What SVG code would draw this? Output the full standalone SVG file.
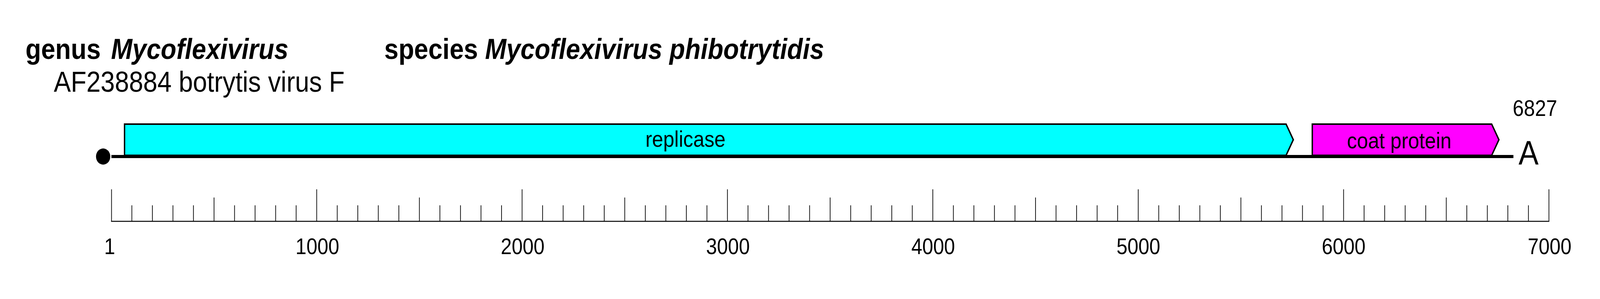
<svg xmlns="http://www.w3.org/2000/svg" width="4638" height="766" viewBox="0 0 4638 766" preserveAspectRatio="none">
<style>
svg:root{width:100vw;height:100vh}
text{font-family:"Liberation Sans",Arial,sans-serif;fill:#000}
.title{font-size:74px;font-weight:bold}
.it{font-style:italic}
.acc{font-size:74px}
.gene{font-size:58px;text-anchor:middle}
.lab{font-size:57px;text-anchor:middle}
.gbox{stroke:#000;stroke-width:4;stroke-linejoin:miter}
.tick{stroke:#000;stroke-width:2;fill:none}
</style>
<rect width="4638" height="766" fill="#fff"/>
<g id="header">
<text class="title" x="74" y="151">genus<tspan class="it" x="322">Mycoflexivirus</tspan></text>
<text class="title" x="1114" y="151">species <tspan class="it">Mycoflexivirus phibotrytidis</tspan></text>
<text class="acc" x="156" y="235">AF238884 botrytis virus F</text>
</g>
<g id="genome">
<circle cx="299" cy="401" r="20.7" fill="#000"/>
<line x1="323" y1="401" x2="4387" y2="401" stroke="#000" stroke-width="8"/>
<text x="4385" y="297" font-size="58">6827</text>
<text x="4402" y="422" font-size="87">A</text>
</g>
<g id="replicase">
<polygon class="gbox" fill="#00FFFF" points="361,318 3728,318 3749,358 3728,398 361,398"/>
<text class="gene" x="1987" y="376">replicase</text>
</g>
<g id="coat-protein">
<polygon class="gbox" fill="#FF00FF" points="3804,318 4324,318 4345,358 4324,398 3804,398"/>
<text class="gene" x="4056" y="380">coat protein</text>
</g>
<g id="scale">
<line x1="322" y1="567" x2="4491" y2="567" stroke="#000" stroke-width="2.5"/>
<path class="tick" d="M323.3 567V485M918 567V485M1513.4 567V485M2108.7 567V485M2704 567V485M3299.4 567V485M3894.7 567V485M4490 567V485"/>
<path class="tick" d="M620.4 567V506M1215.7 567V506M1811 567V506M2406.4 567V506M3001.7 567V506M3597 567V506M4192.4 567V506"/>
<path class="tick" d="M382.2 567V526M441.8 567V526M501.3 567V526M560.8 567V526M679.9 567V526M739.4 567V526M799 567V526M858.5 567V526M977.6 567V526M1037.1 567V526M1096.6 567V526M1156.2 567V526M1275.2 567V526M1334.8 567V526M1394.3 567V526M1453.8 567V526M1572.9 567V526M1632.4 567V526M1692 567V526M1751.5 567V526M1870.6 567V526M1930.1 567V526M1989.6 567V526M2049.2 567V526M2168.2 567V526M2227.8 567V526M2287.3 567V526M2346.8 567V526M2465.9 567V526M2525.4 567V526M2585 567V526M2644.5 567V526M2763.6 567V526M2823.1 567V526M2882.6 567V526M2942.2 567V526M3061.2 567V526M3120.8 567V526M3180.3 567V526M3239.8 567V526M3358.9 567V526M3418.4 567V526M3478 567V526M3537.5 567V526M3656.6 567V526M3716.1 567V526M3775.6 567V526M3835.2 567V526M3954.2 567V526M4013.8 567V526M4073.3 567V526M4132.8 567V526M4251.9 567V526M4311.4 567V526M4370.9 567V526M4430.5 567V526"/>
<text class="lab" x="318" y="651">1</text>
<text class="lab" x="920" y="651">1000</text>
<text class="lab" x="1515" y="651">2000</text>
<text class="lab" x="2110" y="651">3000</text>
<text class="lab" x="2705" y="651">4000</text>
<text class="lab" x="3300" y="651">5000</text>
<text class="lab" x="3895" y="651">6000</text>
<text class="lab" x="4492" y="651">7000</text>
</g>
</svg>
